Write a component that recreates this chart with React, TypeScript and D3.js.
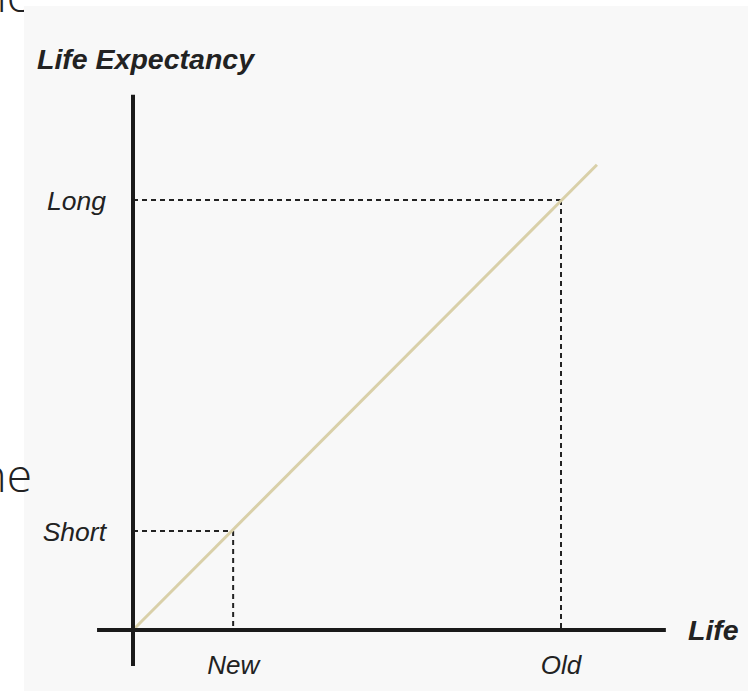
import React, { useRef, useEffect } from 'react';
import * as d3 from 'd3';

// conceptual chart: value 0..100 maps to "short/new" .. "long/old"
const xTickLabels = ['New', 'Old'];
const xTickValues = [23.4, 100];
const yTickLabels = ['Short', 'Long'];
const yTickValues = [23, 100];
const lineX = [0, 108.4];
const lineY = [0, 108.2];
const axisExtent = [-8.4, 124.5];

const W = 748;
const H = 691;

export default function App() {
    const svgRef = useRef<SVGSVGElement>(null);

    useEffect(() => {
        if (!svgRef.current) return;
        const svg = d3.select(svgRef.current);
        svg.selectAll('*').remove();

        const x = d3.scaleLinear().domain([0, 100]).range([133, 561]);
        const y = d3.scaleLinear().domain([0, 100]).range([630, 200]);
        const font = '"Liberation Sans", Arial, sans-serif';
        const ink = '#222222';

        // stray text from the surrounding page
        svg.append('text')
            .attr('x', 32).attr('y', 12)
            .attr('text-anchor', 'end')
            .attr('font-family', '"Open Sans", sans-serif')
            .attr('font-weight', 300)
            .attr('font-size', 46)
            .attr('fill', '#222')
            .text('ne');

        svg.append('rect')
            .attr('x', 24).attr('y', 6)
            .attr('width', W - 24).attr('height', H - 6)
            .attr('fill', '#f8f8f8');

        svg.append('text')
            .attr('x', 32).attr('y', 492)
            .attr('text-anchor', 'end')
            .attr('font-family', '"Open Sans", sans-serif')
            .attr('font-weight', 300)
            .attr('font-size', 46)
            .attr('fill', '#222')
            .text('ne');

        // dashed guides
        const guides = svg.append('g')
            .attr('stroke', ink)
            .attr('stroke-width', 2)
            .attr('stroke-dasharray', '5,4')
            .attr('fill', 'none');

        xTickValues.forEach((v, i) => {
            const yv = yTickValues[i];
            guides.append('line')
                .attr('x1', x(0)).attr('x2', x(v))
                .attr('y1', y(yv)).attr('y2', y(yv));
            guides.append('line')
                .attr('x1', x(v)).attr('x2', x(v))
                .attr('y1', y(yv)).attr('y2', y(0));
        });

        // diagonal
        const line = d3.line<number>()
            .x((d) => x(d))
            .y((_, i) => y(lineY[i]));
        svg.append('path')
            .datum(lineX)
            .attr('d', line)
            .attr('stroke', '#d9d0a9')
            .attr('stroke-width', 3)
            .attr('fill', 'none');

        // axes
        svg.append('line')
            .attr('x1', x(axisExtent[0])).attr('x2', x(axisExtent[1]))
            .attr('y1', y(0)).attr('y2', y(0))
            .attr('stroke', '#1a1a1a').attr('stroke-width', 4);
        svg.append('line')
            .attr('x1', x(0)).attr('x2', x(0))
            .attr('y1', y(axisExtent[0])).attr('y2', y(axisExtent[1]))
            .attr('stroke', '#1a1a1a').attr('stroke-width', 4);

        // tick labels
        svg.selectAll('.xlab')
            .data(xTickLabels)
            .join('text')
            .attr('x', (_, i) => x(xTickValues[i]))
            .attr('y', 674)
            .attr('text-anchor', 'middle')
            .attr('font-family', font)
            .attr('font-style', 'italic')
            .attr('font-size', 26)
            .attr('fill', ink)
            .text((d) => d);

        svg.selectAll('.ylab')
            .data(yTickLabels)
            .join('text')
            .attr('x', 106)
            .attr('y', (_, i) => y(yTickValues[i]))
            .attr('dy', '0.36em')
            .attr('text-anchor', 'end')
            .attr('font-family', font)
            .attr('font-style', 'italic')
            .attr('font-size', 26.5)
            .attr('fill', ink)
            .text((d) => d);

        // axis titles
        svg.append('text')
            .attr('x', 37).attr('y', 69)
            .attr('font-family', font)
            .attr('font-style', 'italic')
            .attr('font-weight', 700)
            .attr('font-size', 28.5)
            .attr('fill', ink)
            .text('Life Expectancy');

        svg.append('text')
            .attr('x', 688).attr('y', y(0))
            .attr('dy', '0.36em')
            .attr('font-family', font)
            .attr('font-style', 'italic')
            .attr('font-weight', 700)
            .attr('font-size', 28.5)
            .attr('fill', ink)
            .text('Life');
    }, []);

    return (
        <svg
            ref={svgRef}
            width={W}
            height={H}
            style={{ position: 'absolute', left: 0, top: 0, background: '#fff' }}
        />
    );
}
